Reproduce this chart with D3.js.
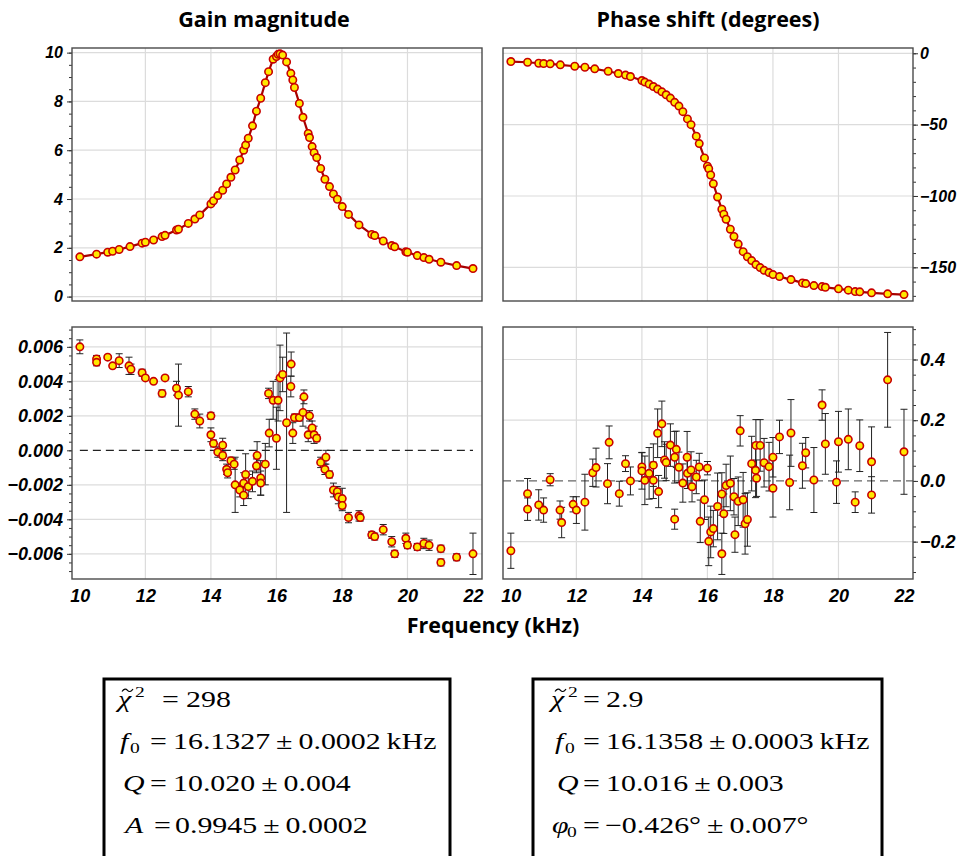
<!DOCTYPE html>
<html>
<head>
<meta charset="utf-8">
<script src="https://cdn.jsdelivr.net/npm/d3@7"></script>
<style>
  body { margin: 0; background: #fff; }
  .tick text { font-family: "Liberation Sans", Arial, sans-serif; font-weight: bold; font-style: italic; fill: #000; }
  .title { font-family: "Open Sans", sans-serif; font-weight: bold; font-size: 21.5px; }
  .fit { font-family: "Liberation Serif", "Times New Roman", serif; font-size: 23px; }
</style>
</head>
<body>
<script>
// top left: gain magnitude
var gainFreq = [10.00,10.51,10.85,11.00,11.20,11.53,11.90,12.00,12.25,12.51,12.60,12.95,13.01,13.31,13.51,13.66,14.00,14.08,14.21,14.36,14.48,14.61,14.74,14.88,15.00,15.06,15.14,15.27,15.39,15.52,15.66,15.76,15.90,16.00,16.05,16.11,16.19,16.31,16.44,16.50,16.55,16.70,16.81,16.97,17.01,17.09,17.15,17.23,17.35,17.48,17.62,17.74,17.86,18.01,18.20,18.52,18.91,19.00,19.26,19.52,19.61,19.95,20.00,20.30,20.50,20.66,21.02,21.50,22.00];
var gainMag = [1.63,1.74,1.82,1.86,1.93,2.05,2.19,2.23,2.32,2.46,2.51,2.73,2.76,3.00,3.18,3.35,3.80,3.93,4.14,4.36,4.62,4.89,5.19,5.60,6.00,6.21,6.49,7.00,7.60,8.13,8.77,9.22,9.73,9.84,9.93,9.95,9.90,9.62,9.15,8.88,8.57,7.92,7.35,6.69,6.52,6.15,5.90,5.70,5.25,4.81,4.51,4.21,3.99,3.69,3.37,2.94,2.55,2.50,2.28,2.09,2.04,1.84,1.82,1.68,1.60,1.53,1.41,1.27,1.15];

// top right: phase (degrees)
var phaseFreq = [10.00,10.51,10.85,11.00,11.20,11.51,11.95,12.26,12.56,12.97,13.28,13.50,13.65,14.00,14.09,14.22,14.35,14.48,14.61,14.74,14.87,15.00,15.13,15.25,15.39,15.50,15.66,15.75,15.91,16.00,16.04,16.10,16.18,16.31,16.44,16.50,16.57,16.70,16.81,16.94,17.09,17.22,17.35,17.48,17.61,17.73,17.88,18.00,18.20,18.55,18.90,19.00,19.25,19.50,19.60,20.00,20.30,20.51,20.65,21.01,21.50,22.00];
var phaseDeg = [-5.8,-6.3,-7.0,-7.2,-7.4,-8.1,-9.1,-9.8,-10.9,-12.6,-14.2,-15.3,-16.3,-19.1,-20.2,-21.6,-23.3,-25.1,-27.0,-29.1,-31.4,-34.4,-37.0,-40.9,-46.0,-50.0,-58.1,-63.3,-73.3,-79.1,-80.9,-85.3,-91.4,-100.7,-109.3,-112.8,-116.3,-123.3,-128.4,-133.7,-139.0,-142.6,-145.3,-148.1,-150.2,-152.1,-153.7,-155.1,-156.5,-158.6,-160.9,-161.4,-162.8,-163.5,-164.0,-165.1,-166.0,-167.0,-167.2,-167.9,-168.6,-169.1];

// bottom left: gain residuals
var gainResFreq = [10.00,10.51,10.51,10.85,11.00,11.20,11.50,11.56,11.90,12.00,12.25,12.51,12.60,12.95,13.01,13.31,13.51,13.66,14.00,14.00,14.08,14.21,14.36,14.36,14.48,14.51,14.61,14.71,14.74,14.88,15.00,15.00,15.06,15.14,15.27,15.39,15.41,15.52,15.52,15.66,15.76,15.78,15.90,16.00,16.05,16.11,16.19,16.31,16.44,16.45,16.50,16.55,16.70,16.81,16.84,16.97,17.01,17.09,17.15,17.23,17.35,17.48,17.51,17.62,17.74,17.86,17.89,18.01,18.01,18.20,18.52,18.56,18.91,19.00,19.26,19.52,19.61,19.95,20.00,20.30,20.50,20.66,21.02,21.02,21.50,22.00];
var gainRes = [0.0060,0.0053,0.0051,0.0054,0.0049,0.0052,0.0049,0.0047,0.0045,0.0042,0.0040,0.0033,0.0042,0.0036,0.0032,0.0034,0.0021,0.0017,0.0020,0.0009,0.0004,-0.0001,0.0003,-0.0003,-0.0011,-0.0013,-0.0006,-0.0008,-0.0020,-0.0023,-0.0019,-0.0026,-0.0014,-0.0021,-0.0018,-0.0009,-0.0003,-0.0016,-0.0019,-0.0008,0.0033,0.0010,0.0029,0.0007,0.0029,0.0042,0.0044,0.0016,0.0037,0.0050,0.0010,0.0019,0.0019,0.0022,0.0031,0.0009,0.0020,0.0013,0.0009,0.0007,-0.0007,-0.0011,-0.0004,-0.0014,-0.0023,-0.0024,-0.0027,-0.0028,-0.0032,-0.0039,-0.0038,-0.0039,-0.0049,-0.0050,-0.0046,-0.0053,-0.0060,-0.0051,-0.0055,-0.0056,-0.0054,-0.0055,-0.0057,-0.0065,-0.0062,-0.0060];
var gainResErr = [0.0004,0.0002,0.0002,0.0001,0.0001,0.0004,0.0005,0.0003,0.0002,0.0001,0.0001,0.0002,0.0001,0.0004,0.0018,0.0003,0.0003,0.0004,0.0002,0.0004,0.0002,0.0003,0.0004,0.0003,0.0003,0.0003,0.0002,0.0003,0.0016,0.0004,0.0006,0.0006,0.0012,0.0007,0.0006,0.0004,0.0008,0.0010,0.0007,0.0012,0.0003,0.0008,0.0011,0.0018,0.0012,0.0019,0.0010,0.0052,0.0006,0.0007,0.0006,0.0002,0.0002,0.0008,0.0004,0.0004,0.0003,0.0004,0.0005,0.0002,0.0003,0.0003,0.0004,0.0002,0.0004,0.0003,0.0004,0.0006,0.0003,0.0003,0.0003,0.0002,0.0002,0.0002,0.0003,0.0003,0.0002,0.0003,0.0002,0.0002,0.0003,0.0003,0.0002,0.0002,0.0002,0.0012];

// bottom right: phase residuals (degrees)
var phaseResFreq = [10.00,10.51,10.51,10.85,11.00,11.20,11.50,11.55,11.90,12.00,12.26,12.50,12.60,12.95,13.00,13.31,13.50,13.65,14.00,14.00,14.09,14.22,14.35,14.35,14.48,14.51,14.61,14.69,14.74,14.87,15.00,15.00,15.05,15.13,15.25,15.38,15.39,15.50,15.53,15.66,15.75,15.78,15.91,16.00,16.04,16.10,16.18,16.31,16.44,16.44,16.50,16.57,16.70,16.81,16.84,16.94,17.00,17.09,17.15,17.22,17.35,17.47,17.48,17.50,17.61,17.73,17.88,18.00,18.00,18.20,18.51,18.55,18.90,19.00,19.25,19.50,19.60,19.94,20.00,20.30,20.51,20.65,21.01,21.01,21.50,22.00];
var phaseRes = [-0.230,-0.042,-0.093,-0.079,-0.096,0.004,-0.096,-0.137,-0.077,-0.096,-0.070,0.027,0.044,-0.009,0.127,-0.042,0.057,0.000,0.046,0.033,0.002,0.025,0.052,0.002,0.157,-0.035,0.188,0.069,0.061,0.118,0.078,-0.126,0.104,0.045,-0.007,0.078,0.025,0.036,-0.019,0.013,0.046,-0.133,-0.062,0.042,-0.199,-0.168,-0.157,-0.084,-0.043,-0.240,-0.108,-0.015,-0.008,-0.052,-0.177,-0.067,0.165,-0.062,-0.141,-0.127,0.057,0.035,0.117,0.009,0.117,0.060,0.047,0.078,-0.024,0.145,-0.005,0.158,0.050,0.093,0.003,0.250,0.122,-0.004,0.129,0.137,-0.070,0.116,0.063,-0.046,0.333,0.096];
var phaseResErr = [0.058,0.050,0.037,0.050,0.040,0.020,0.030,0.050,0.025,0.044,0.092,0.045,0.064,0.066,0.054,0.041,0.026,0.046,0.048,0.060,0.080,0.085,0.070,0.060,0.080,0.053,0.075,0.060,0.060,0.070,0.085,0.033,0.060,0.050,0.063,0.085,0.050,0.060,0.050,0.055,0.045,0.070,0.065,0.022,0.080,0.085,0.060,0.110,0.070,0.068,0.065,0.070,0.090,0.060,0.058,0.080,0.050,0.090,0.100,0.088,0.090,0.090,0.085,0.060,0.085,0.080,0.080,0.065,0.095,0.055,0.090,0.110,0.074,0.050,0.107,0.050,0.100,0.070,0.100,0.100,0.034,0.085,0.115,0.060,0.156,0.140];

// tick values
var freqTicks = [10, 12, 14, 16, 18, 20, 22];
var gainTicks = [0, 2, 4, 6, 8, 10];
var phaseTicks = [0, -50, -100, -150];
var gainResTicks = [-0.006, -0.004, -0.002, 0, 0.002, 0.004, 0.006];
var phaseResTicks = [-0.2, 0, 0.2, 0.4];

// fit results: symbol, sub/superscript, value
var gainFit = [["χ̃", "2", "298"], ["f", "0", "16.1327\u2009±\u20090.0002\u2009kHz"], ["Q", "", "10.020\u2009±\u20090.004"], ["A", "", "0.9945\u2009±\u20090.0002"]];
var phaseFit = [["χ̃", "2", "2.9"], ["f", "0", "16.1358\u2009±\u20090.0003\u2009kHz"], ["Q", "", "10.016\u2009±\u20090.003"], ["φ", "0", "−0.426°\u2009±\u20090.007°"]];

var width = 963, height = 856;
var svg = d3.select("body").append("svg")
    .attr("width", width)
    .attr("height", height);

var fillColor = "#ffe800", strokeColor = "#c80000", lineColor = "#a80000";

function zip(xs, ys, es) {
  return xs.map(function(x, i) { return {f: x, v: ys[i], e: es ? es[i] : 0}; });
}

function minorTicks(y, step) {
  var d = y.domain();
  var lo = Math.ceil(Math.min(d[0], d[1]) / step), hi = Math.floor(Math.max(d[0], d[1]) / step);
  return d3.range(lo, hi + 1).map(function(k) { return +(k * step).toFixed(6); });
}

function panel(o) {
  var x = d3.scaleLinear().domain([9.76, 22.275]).range([o.x0, o.x1]);
  var y = d3.scaleLinear().domain(o.ydom).range([o.y1, o.y0]);
  var g = svg.append("g");

  // grid
  g.selectAll(".vg").data(freqTicks.filter(function(t) { return t > 10 && t < 22; }))
    .enter().append("line")
    .attr("x1", function(d) { return x(d); }).attr("x2", function(d) { return x(d); })
    .attr("y1", o.y0).attr("y2", o.y1)
    .attr("stroke", "#dcdcdc").attr("stroke-width", 1.2);
  g.selectAll(".hg").data(o.ticks.filter(function(t) { return o.zeroDash ? t != 0 : true; }))
    .enter().append("line")
    .attr("x1", o.x0).attr("x2", o.x1)
    .attr("y1", function(d) { return y(d); }).attr("y2", function(d) { return y(d); })
    .attr("stroke", "#dcdcdc").attr("stroke-width", 1.2);

  if (o.zeroDash) {
    g.append("line")
      .attr("x1", o.dashX ? x(o.dashX[0]) : o.x0).attr("x2", o.dashX ? x(o.dashX[1]) : o.x1)
      .attr("y1", y(0)).attr("y2", y(0))
      .attr("stroke", o.dashColor).attr("stroke-width", 1.3)
      .attr("stroke-dasharray", "8,5");
  }

  // axes
  var side = o.right ? d3.axisRight : d3.axisLeft;
  var pos = o.right ? o.x1 : o.x0;
  g.append("g")
    .attr("transform", "translate(" + pos + ",0)")
    .call(side(y).tickValues(minorTicks(y, o.minor)).tickSize(3).tickFormat(""))
    .call(function(a) { a.select(".domain").remove(); a.selectAll("line").attr("stroke", "#333"); });
  g.append("g")
    .attr("transform", "translate(" + pos + ",0)")
    .call(side(y).tickValues(o.ticks).tickSize(5).tickPadding(o.right ? 2 : 4).tickFormat(d3.format(o.fmt)))
    .call(function(a) {
      a.select(".domain").remove();
      a.selectAll("line").attr("stroke", "#333");
      a.selectAll("text").style("font-size", o.fs + "px");
    });

  if (o.xlabels) {
    g.append("g")
      .attr("transform", "translate(0," + o.y1 + ")")
      .call(d3.axisBottom(x).tickValues(freqTicks).tickSize(0).tickPadding(10).tickFormat(d3.format("d")))
      .call(function(a) {
        a.select(".domain").remove();
        a.selectAll("text").style("font-size", "18px");
      });
  }

  // frame
  g.append("rect")
    .attr("x", o.x0).attr("y", o.y0)
    .attr("width", o.x1 - o.x0).attr("height", o.y1 - o.y0)
    .attr("fill", "none").attr("stroke", "#4a4a4a").attr("stroke-width", 1.4);

  var pts = zip(o.fx, o.fy, o.fe);

  if (o.line) {
    var sorted = pts.slice().sort(function(a, b) { return a.f - b.f; });
    g.append("path").datum(sorted)
      .attr("fill", "none").attr("stroke", lineColor).attr("stroke-width", 2.2)
      .attr("d", d3.line().x(function(d) { return x(d.f); }).y(function(d) { return y(d.v); }));
  }

  if (o.fe) {
    var eb = g.selectAll(".eb").data(pts).enter().append("g").attr("stroke", "#222").attr("stroke-width", 1);
    eb.append("line")
      .attr("x1", function(d) { return x(d.f); }).attr("x2", function(d) { return x(d.f); })
      .attr("y1", function(d) { return y(d.v + d.e); }).attr("y2", function(d) { return y(d.v - d.e); });
    eb.append("line")
      .attr("x1", function(d) { return x(d.f) - 3.5; }).attr("x2", function(d) { return x(d.f) + 3.5; })
      .attr("y1", function(d) { return y(d.v + d.e); }).attr("y2", function(d) { return y(d.v + d.e); });
    eb.append("line")
      .attr("x1", function(d) { return x(d.f) - 3.5; }).attr("x2", function(d) { return x(d.f) + 3.5; })
      .attr("y1", function(d) { return y(d.v - d.e); }).attr("y2", function(d) { return y(d.v - d.e); });
  }

  g.selectAll(".pt").data(pts).enter().append("circle")
    .attr("cx", function(d) { return x(d.f); })
    .attr("cy", function(d) { return y(d.v); })
    .attr("r", 3.7)
    .attr("fill", fillColor).attr("stroke", strokeColor).attr("stroke-width", 1.6);
}

panel({x0: 72, x1: 482, y0: 48, y1: 301, ydom: [-0.18, 10.19], ticks: gainTicks, minor: 0.5, fmt: "d", fs: 16,
       fx: gainFreq, fy: gainMag, line: true});
panel({x0: 503, x1: 913, y0: 48, y1: 301, ydom: [-173.6, 3.7], ticks: phaseTicks, minor: 10, fmt: "d", fs: 16, right: true,
       fx: phaseFreq, fy: phaseDeg, line: true});
panel({x0: 72, x1: 482, y0: 327, y1: 579, ydom: [-0.00746, 0.00715], ticks: gainResTicks, minor: 0.0005, fmt: ".3f", fs: 18,
       fx: gainResFreq, fy: gainRes, fe: gainResErr, zeroDash: true, dashColor: "#222", dashX: [10, 22], xlabels: true});
panel({x0: 503, x1: 913, y0: 327, y1: 579, ydom: [-0.323, 0.507], ticks: phaseResTicks, minor: 0.05, fmt: ".1f", fs: 18, right: true,
       fx: phaseResFreq, fy: phaseRes, fe: phaseResErr, zeroDash: true, dashColor: "#666", xlabels: true});

// titles
svg.append("text").attr("class", "title").attr("x", 264).attr("y", 27).attr("text-anchor", "middle").text("Gain magnitude");
svg.append("text").attr("class", "title").attr("x", 708).attr("y", 27).attr("text-anchor", "middle").text("Phase shift (degrees)");
svg.append("text").attr("class", "title").attr("x", 493).attr("y", 633).attr("text-anchor", "middle").text("Frequency (kHz)");

// fit boxes; each line: symbol x, index x, "=" x, value x
function put(x, y, txt, italic) {
  var t = svg.append("text").attr("class", "fit")
    .attr("transform", "translate(" + x + "," + y + ") scale(1.3,1)").text(txt);
  if (italic) t.style("font-style", "italic");
  return t;
}
function fitBox(x0, x1, lines, pos) {
  svg.append("rect")
    .attr("x", x0).attr("y", 679)
    .attr("width", x1 - x0).attr("height", 200)
    .attr("fill", "#fff").attr("stroke", "#000").attr("stroke-width", 3);
  lines.forEach(function(l, i) {
    var base = 707 + i * 42;
    var p = pos[i];
    var sym = l[0].replace("\u0303", "");
    var s = put(p[0], base, sym, true);
    if (l[1]) {
      s.append("tspan").attr("x", (p[1] - p[0]) / 1.3).attr("y", l[1] == "2" ? -10 : 4)
        .style("font-style", "normal").style("font-size", "15px").text(l[1]);
    }
    if (sym != l[0]) {
      // tilde accent drawn as a small stroke over the symbol
      var tx = p[0] + 4, ty = base - 17;
      svg.append("path")
        .attr("d", "M" + tx + "," + (ty + 1.5) + " c2,-3 4,-3 5.5,-1.2 s3.5,1.8 5.5,-1.3")
        .attr("fill", "none").attr("stroke", "#000").attr("stroke-width", 1.2);
    }
    put(p[2], base, "=");
    put(p[3], base, l[2]);
  });
}
fitBox(104, 450, gainFit, [[118, 135, 162, 186], [120, 130, 150, 173], [123, 0, 150, 173], [125, 0, 154, 175]]);
fitBox(533, 882, phaseFit, [[551, 568, 583, 606], [555, 565, 583, 606], [557, 0, 583, 606], [552, 567, 583, 605]]);
</script>
</body>
</html>
